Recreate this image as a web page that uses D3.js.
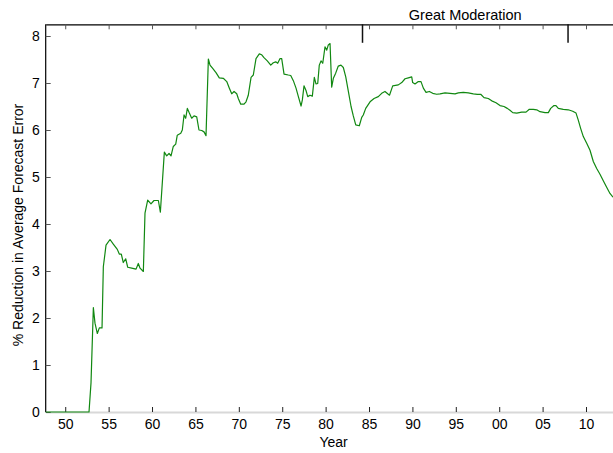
<!DOCTYPE html>
<html>
<head>
<meta charset="utf-8">
<script src="https://cdn.jsdelivr.net/npm/d3@7"></script>
<style>
  html, body { margin: 0; padding: 0; background: #fff; }
  svg { display: block; font-family: "Liberation Sans", Arial, Helvetica, sans-serif; }
</style>
</head>
<body>
<svg id="chart" width="613" height="453"></svg>
<script>
// Quarterly-ish path of the reduction in average forecast error (%)
const years = [
  1947.75, 1952.74, 1952.97, 1953.24, 1953.43, 1953.70, 1953.93, 1954.24, 1954.39, 1954.70,
  1955.16, 1955.54, 1956.00, 1956.23, 1956.46, 1956.69, 1956.97, 1957.20, 1957.66, 1958.16,
  1958.42, 1958.62, 1959.00, 1959.19, 1959.50, 1959.88, 1960.23, 1960.73, 1960.96, 1961.42,
  1961.69, 1961.96, 1962.19, 1962.45, 1962.73, 1962.91, 1963.31, 1963.49, 1963.69, 1963.88,
  1964.07, 1964.30, 1964.57, 1964.84, 1965.15, 1965.41, 1965.73, 1965.99, 1966.22, 1966.49,
  1966.68, 1966.99, 1967.37, 1967.75, 1968.21, 1968.61, 1968.91, 1969.18, 1969.45, 1969.76,
  1969.94, 1970.22, 1970.60, 1970.83, 1971.09, 1971.41, 1971.67, 1971.98, 1972.36, 1972.64,
  1972.90, 1973.28, 1973.68, 1973.97, 1974.25, 1974.48, 1974.75, 1974.94, 1975.21, 1975.70,
  1975.98, 1976.28, 1976.59, 1976.86, 1977.17, 1977.32, 1977.51, 1977.74, 1977.94, 1978.20,
  1978.47, 1978.70, 1978.89, 1979.09, 1979.27, 1979.47, 1979.67, 1979.93, 1980.13, 1980.31,
  1980.51, 1980.70, 1980.89, 1981.16, 1981.46, 1981.77, 1982.04, 1982.32, 1982.62, 1982.93,
  1983.19, 1983.47, 1983.88, 1984.16, 1984.34, 1984.62, 1985.12, 1985.58, 1986.07, 1986.46,
  1986.84, 1987.15, 1987.36, 1987.73, 1988.38, 1988.77, 1989.15, 1989.53, 1989.92, 1990.03,
  1990.30, 1990.68, 1990.99, 1991.26, 1991.57, 1991.95, 1992.34, 1992.80, 1993.18, 1993.76,
  1994.33, 1994.91, 1995.29, 1995.86, 1996.44, 1997.02, 1997.48, 1997.87, 1998.25, 1998.74,
  1999.14, 1999.63, 2000.09, 2000.55, 2000.93, 2001.24, 2001.56, 2002.02, 2002.59, 2003.09,
  2003.47, 2003.93, 2004.32, 2004.70, 2005.28, 2005.66, 2005.93, 2006.31, 2006.54, 2006.81,
  2007.38, 2007.96, 2008.47, 2008.85, 2009.11, 2009.39, 2009.69, 2010.08, 2010.46, 2010.84,
  2011.23, 2011.61, 2011.99, 2012.38, 2012.76, 2013.11
];
const reduction = [
  0.00, 0.00, 0.62, 2.22, 1.89, 1.67, 1.79, 1.79, 3.09, 3.55,
  3.67, 3.57, 3.46, 3.36, 3.36, 3.18, 3.26, 3.08, 3.06, 3.04,
  3.16, 3.06, 2.99, 4.23, 4.51, 4.43, 4.50, 4.50, 4.25, 5.53,
  5.45, 5.50, 5.45, 5.65, 5.70, 5.89, 5.93, 6.00, 6.32, 6.25,
  6.46, 6.36, 6.25, 6.30, 6.28, 6.00, 5.99, 5.96, 5.88, 7.51,
  7.38, 7.31, 7.22, 7.11, 7.10, 7.03, 6.89, 6.77, 6.82, 6.77,
  6.67, 6.55, 6.55, 6.60, 6.74, 7.12, 7.17, 7.52, 7.62, 7.60,
  7.54, 7.47, 7.38, 7.43, 7.45, 7.42, 7.52, 7.52, 7.19, 7.17,
  7.16, 7.05, 6.89, 6.71, 6.51, 6.64, 6.94, 6.84, 6.71, 6.74,
  6.72, 7.12, 6.98, 6.99, 7.38, 7.47, 7.42, 7.77, 7.70, 7.81,
  7.84, 6.91, 7.10, 7.21, 7.36, 7.38, 7.33, 7.13, 6.82, 6.50,
  6.30, 6.11, 6.09, 6.27, 6.32, 6.46, 6.60, 6.67, 6.71, 6.78,
  6.82, 6.77, 6.74, 6.94, 6.96, 7.01, 7.09, 7.11, 7.13, 7.01,
  6.98, 7.03, 7.03, 6.89, 6.80, 6.82, 6.78, 6.76, 6.77, 6.79,
  6.78, 6.77, 6.79, 6.80, 6.79, 6.77, 6.76, 6.76, 6.69, 6.67,
  6.62, 6.58, 6.52, 6.50, 6.46, 6.42, 6.37, 6.36, 6.38, 6.38,
  6.44, 6.44, 6.43, 6.39, 6.37, 6.37, 6.46, 6.52, 6.52, 6.46,
  6.44, 6.43, 6.40, 6.36, 6.21, 6.03, 5.86, 5.72, 5.57, 5.33,
  5.18, 5.06, 4.92, 4.78, 4.65, 4.57
];

// Axis ticks
const xTickYears = [1950, 1955, 1960, 1965, 1970, 1975, 1980, 1985, 1990, 1995, 2000, 2005, 2010];
const xTickLabels = ["50", "55", "60", "65", "70", "75", "80", "85", "90", "95", "00", "05", "10"];
const yTickValues = [0, 1, 2, 3, 4, 5, 6, 7, 8];

// Marked period
const periodLabel = "Great Moderation";
const periodSpan = [1984.25, 2007.93];

const xDomain = [1947.75, 2013.11];
const yDomain = [0, 8];

const svg = d3.select("#chart");
const plotLeft = 45.7, plotRight = 613, plotTop = 24.3, plotBottom = 412;

const x = d3.scaleLinear().domain(xDomain).range([plotLeft, plotRight]);
const y = d3.scaleLinear().domain(yDomain).range([plotBottom, 36]);

// Top frame line with inward ticks
const topAxis = svg.append("g")
  .attr("transform", `translate(0,${plotTop})`)
  .call(d3.axisBottom(x).tickValues(xTickYears).tickSizeInner(5).tickSizeOuter(0).tickFormat(""));
topAxis.select(".domain").attr("stroke", "#000").attr("stroke-width", 1.2);
topAxis.selectAll(".tick line").attr("stroke", "#555");

// Bottom axis: pale baseline, ticks pointing up, two-digit year labels
const bottomAxis = svg.append("g")
  .attr("transform", `translate(0,${plotBottom})`)
  .call(d3.axisBottom(x).tickValues(xTickYears).tickSizeInner(-5).tickSizeOuter(0).tickPadding(7)
    .tickFormat((d, i) => xTickLabels[i]));
bottomAxis.select(".domain").attr("stroke", "#d8d8d8").attr("stroke-width", 2);
bottomAxis.selectAll(".tick line").attr("stroke", "#222");
bottomAxis.selectAll("text").attr("font-size", 14).attr("fill", "#000")
  .attr("font-family", "Liberation Sans, Arial, sans-serif");

// Left axis
const leftAxis = svg.append("g")
  .attr("transform", `translate(${plotLeft},0)`)
  .call(d3.axisLeft(y).tickValues(yTickValues).tickSizeInner(-5).tickSizeOuter(0).tickPadding(6)
    .tickFormat(d3.format("d")));
leftAxis.select(".domain").attr("stroke", "#000").attr("stroke-width", 1.2)
  .attr("d", `M0,${plotTop}V${plotBottom}`);
leftAxis.selectAll(".tick line").attr("stroke", "#555");
leftAxis.selectAll("text").attr("font-size", 14).attr("fill", "#000")
  .attr("font-family", "Liberation Sans, Arial, sans-serif");

// Period bracket and label
svg.append("g").selectAll("line")
  .data(periodSpan)
  .join("line")
  .attr("x1", d => x(d)).attr("x2", d => x(d))
  .attr("y1", plotTop).attr("y2", plotTop + 18.5)
  .attr("stroke", "#111").attr("stroke-width", 1.5);

svg.append("text")
  .attr("x", (x(periodSpan[0]) + x(periodSpan[1])) / 2)
  .attr("y", 20)
  .attr("text-anchor", "middle")
  .attr("font-size", 14.5)
  .text(periodLabel);

// Series line
const series = years.map((yr, i) => ({ yr, v: reduction[i] }));
svg.append("path")
  .datum(series)
  .attr("fill", "none")
  .attr("stroke", "#118811")
  .attr("stroke-width", 1.2)
  .attr("stroke-linejoin", "round")
  .attr("d", d3.line().x(d => x(d.yr)).y(d => y(d.v)));

// Axis titles
svg.append("text")
  .attr("x", (x(1950) + x(2010)) / 2 + 8)
  .attr("y", 446.5)
  .attr("text-anchor", "middle")
  .attr("font-size", 14)
  .text("Year");

svg.append("text")
  .attr("transform", "translate(23,225) rotate(-90)")
  .attr("text-anchor", "middle")
  .attr("font-size", 14)
  .text("% Reduction in Average Forecast Error");
</script>
</body>
</html>
